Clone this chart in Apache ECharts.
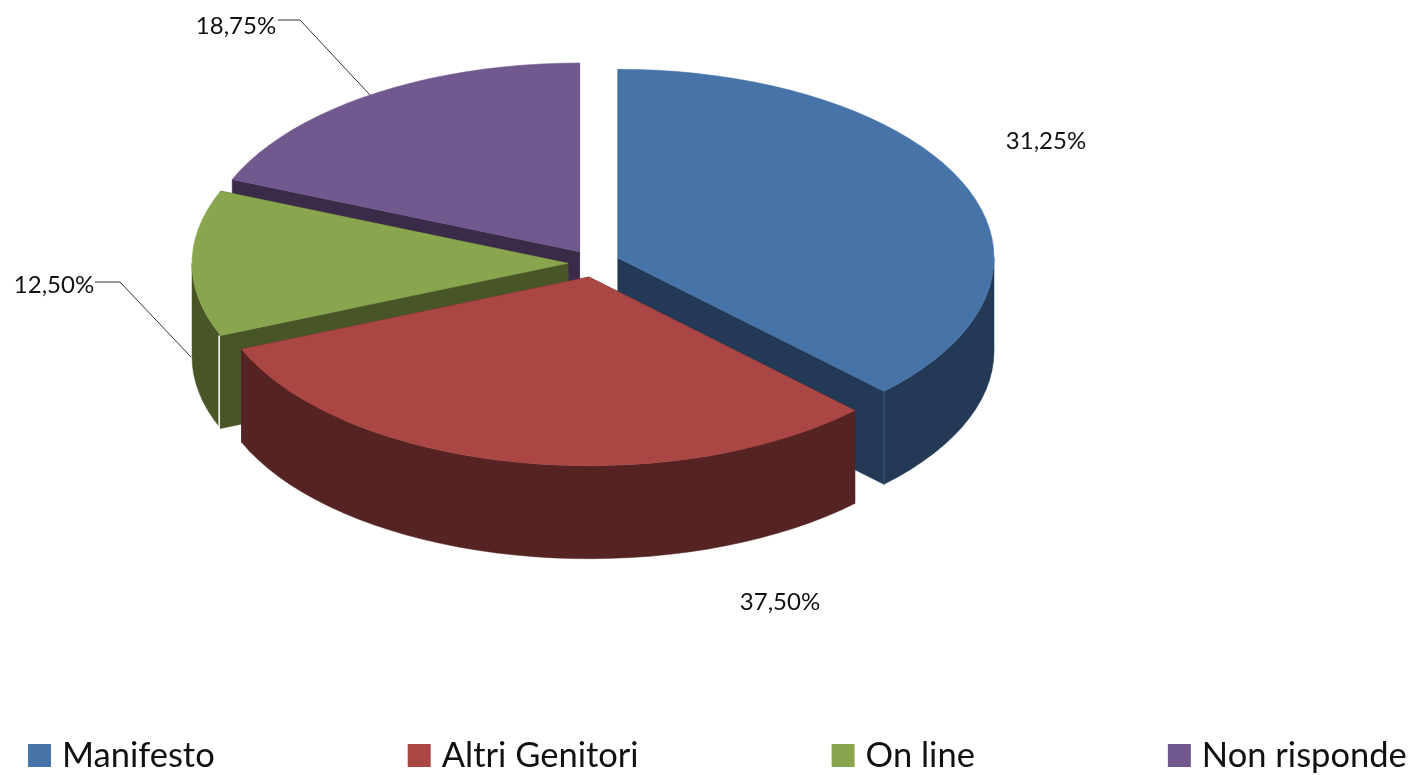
<!DOCTYPE html>
<html><head><meta charset="utf-8">
<style>html,body{margin:0;padding:0;background:#fff}#c{width:1415px;height:775px}</style>
<script src="https://cdn.jsdelivr.net/npm/echarts@6/dist/echarts.min.js"></script>
</head><body><div id="c"></div>
<script>
// Data
const categories = ['Manifesto', 'Altri Genitori', 'On line', 'Non risponde'];
// Printed labels, as they appear in the reference
const printedLabels = ['31,25%', '37,50%', '12,50%', '18,75%'];
// Slice sweep as drawn in the reference (percent of the full turn). The first two
// drawn sweeps are exchanged relative to the printed labels in the source picture.
const drawnShares = [37.5, 31.25, 12.5, 18.75];
const topColors = ['#4674A8', '#AA4644', '#89A54E', '#71588F'];
const wallColors = ['#233955', '#552322', '#485527', '#3A2C49'];
const edgeColors = ['#3f5878', null, '#ffffff', null];
const paintOrder = [3, 2, 0, 1];

// Layout
const C = {x: 594, y: 263.3}, RX = 376, RY = 188.7, DEPTH = 93, EX = 26, EY = 14;
const labelPos = [[1046, 141], [780, 602], [54, 285], [236, 26]];
const leaders = {2: [[95, 282], [120, 282], [191, 357]], 3: [[278, 20], [300, 20], [370, 95]]};

const chart = echarts.init(document.getElementById('c'), null, {renderer: 'canvas'});
const rad = d => d * Math.PI / 180;
const ranges = [];
drawnShares.reduce((s, v, i) => { const e = s + v * 3.6; ranges[i] = [s, e]; return e; }, -90);

function renderSlice(i) {
  const [a0, a1] = ranges[i], mid = rad((a0 + a1) / 2);
  const ax = C.x + EX * Math.cos(mid), ay = C.y + EY * Math.sin(mid);
  const pt = (deg, dz) => [ax + RX * Math.cos(rad(deg)), ay + RY * Math.sin(rad(deg)) + (dz || 0)];
  const arc = (s, e, dz) => {
    const n = Math.max(2, Math.ceil(Math.abs(e - s) / 3)), out = [];
    for (let k = 0; k <= n; k++) out.push(pt(s + (e - s) * k / n, dz));
    return out;
  };
  const kids = [];
  const poly = (points, fill) => kids.push({type: 'polygon', shape: {points}, style: {fill, stroke: fill, lineWidth: 0.5}});
  // inner faces (cut walls), drawn first
  [a0, a1].forEach(a => {
    poly([[ax, ay], pt(a), pt(a, DEPTH), [ax, ay + DEPTH]], wallColors[i]);
  });
  // outer wall: only the part that faces the viewer (0..180 degrees on screen)
  const vs = Math.max(a0, 0), ve = Math.min(a1, 180);
  if (ve > vs) {
    poly(arc(vs, ve, 0).concat(arc(ve, vs, DEPTH)), wallColors[i]);
    // lighter edge where the outer wall meets a cut face
    if (edgeColors[i]) {
      const a = (i === 2) ? a0 : a1, p = pt(a);
      kids.push({type: 'line', shape: {x1: p[0] - (i === 2 ? 1.5 : 0), y1: p[1], x2: p[0] - (i === 2 ? 1.5 : 0), y2: p[1] + DEPTH},
        style: {stroke: edgeColors[i], lineWidth: i === 2 ? 1.5 : 1}});
    }
  }
  // top face
  poly([[ax, ay]].concat(arc(a0, a1)), topColors[i]);
  // leader line
  if (leaders[i]) kids.push({type: 'polyline', shape: {points: leaders[i]}, style: {stroke: '#333', fill: null, lineWidth: 1}});
  // value label
  kids.push({type: 'text', x: labelPos[i][0], y: labelPos[i][1], style: {
    text: printedLabels[i], fill: '#111', font: '24px Lato, sans-serif', align: 'center', verticalAlign: 'middle'}});
  return {type: 'group', children: kids};
}

chart.setOption({
  animation: false,
  backgroundColor: '#fff',
  legend: {
    type: 'plain', orient: 'horizontal',
    data: categories, left: 23, top: 733, width: 1392, icon: 'rect', itemWidth: 23, itemHeight: 23, itemGap: 193,
    textStyle: {fontFamily: 'Lato, sans-serif', fontSize: 34.5, color: '#111', padding: [0, 0, 0, 6]}
  },
  series: paintOrder.map(i => ({
    type: 'custom', name: categories[i], coordinateSystem: 'none',
    itemStyle: {color: topColors[i]}, silent: true,
    data: [drawnShares[i]],
    renderItem: () => renderSlice(i)
  }))
});
</script></body></html>
